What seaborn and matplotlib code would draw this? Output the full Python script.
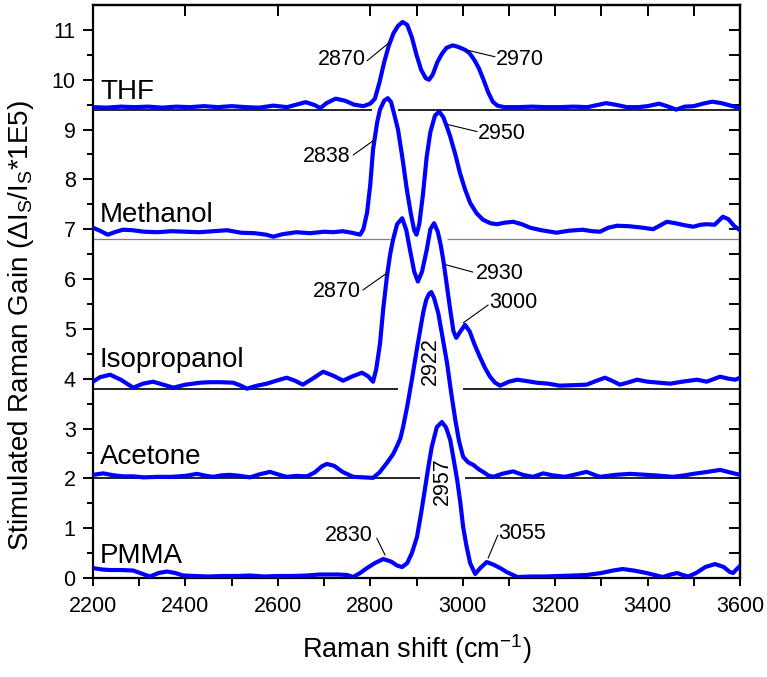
import numpy as np
import pandas as pd
import matplotlib
matplotlib.use("Agg")
import matplotlib.pyplot as plt
import seaborn as sns

sns.set_theme(style="white")
plt.rcParams["font.family"] = ["Liberation Sans", "DejaVu Sans"]
plt.rcParams["mathtext.fontset"] = "custom"
plt.rcParams["mathtext.rm"] = "Liberation Sans"
plt.rcParams["mathtext.it"] = "Liberation Sans:italic"
plt.rcParams["mathtext.bf"] = "Liberation Sans:bold"
for key in ["text.color", "axes.labelcolor", "xtick.color", "ytick.color", "axes.edgecolor"]:
    plt.rcParams[key] = "black"

# ---- spectra (Raman shift in cm^-1, stimulated Raman gain x1E5, with vertical offsets) ----
thf_x = [2200, 2230, 2260, 2290, 2320, 2350, 2380, 2410, 2440, 2470, 2500, 2530, 2560, 2590,
         2620, 2640, 2660, 2680, 2692, 2705, 2725, 2745, 2765, 2785, 2800, 2810, 2820, 2830,
         2840, 2850, 2860, 2870, 2880, 2890, 2900, 2910, 2920, 2927, 2935, 2945, 2955, 2965,
         2978, 2990, 3005, 3015, 3025, 3035, 3045, 3055, 3065, 3075, 3090, 3120, 3150, 3180,
         3210, 3240, 3270, 3290, 3310, 3330, 3355, 3380, 3400, 3425, 3445, 3462, 3480, 3500,
         3520, 3540, 3560, 3580, 3600]
thf_y = [9.45, 9.44, 9.46, 9.45, 9.46, 9.44, 9.46, 9.45, 9.47, 9.45, 9.47, 9.45, 9.44, 9.48,
         9.45, 9.50, 9.55, 9.49, 9.43, 9.53, 9.62, 9.58, 9.50, 9.47, 9.52, 9.62, 9.95, 10.35,
         10.68, 10.93, 11.08, 11.16, 11.10, 10.85, 10.50, 10.20, 10.03, 10.00, 10.10, 10.35, 10.52, 10.64,
         10.69, 10.66, 10.60, 10.53, 10.40, 10.23, 10.00, 9.75, 9.56, 9.48, 9.45, 9.45, 9.46, 9.45,
         9.45, 9.46, 9.45, 9.49, 9.53, 9.50, 9.45, 9.45, 9.47, 9.52, 9.46, 9.40, 9.46, 9.47,
         9.52, 9.56, 9.53, 9.48, 9.43]

methanol_x = [2200, 2215, 2232, 2250, 2265, 2285, 2310, 2340, 2370, 2400, 2430, 2460, 2490, 2520,
              2550, 2575, 2590, 2610, 2640, 2670, 2700, 2720, 2740, 2760, 2778, 2785, 2793, 2800,
              2806, 2815, 2821, 2830, 2838, 2845, 2852, 2860, 2870, 2879, 2888, 2895, 2900, 2906,
              2914, 2922, 2930, 2940, 2949, 2958, 2966, 2973, 2984, 2994, 3005, 3016, 3030, 3044,
              3060, 3074, 3090, 3109, 3128, 3146, 3170, 3203, 3230, 3260, 3280, 3297, 3315, 3334,
              3360, 3390, 3412, 3428, 3442, 3460, 3480, 3499, 3515, 3528, 3545, 3563, 3575, 3588,
              3600]
methanol_y = [7.03, 6.97, 6.89, 6.95, 6.99, 6.98, 6.95, 6.94, 6.96, 6.95, 6.94, 6.96, 6.98, 6.93,
              6.92, 6.89, 6.85, 6.90, 6.94, 6.92, 6.95, 6.94, 6.96, 6.93, 6.89, 7.00, 7.33, 7.90,
              8.60, 9.15, 9.40, 9.58, 9.63, 9.55, 9.30, 9.00, 8.40, 7.80, 7.30, 6.98, 6.89, 7.10,
              7.70, 8.45, 8.95, 9.28, 9.36, 9.25, 9.05, 8.86, 8.50, 8.13, 7.80, 7.53, 7.32, 7.19,
              7.12, 7.10, 7.13, 7.15, 7.10, 7.03, 6.98, 6.93, 6.97, 6.99, 6.96, 6.95, 7.03, 7.07,
              7.06, 7.03, 7.00, 7.08, 7.15, 7.12, 7.08, 7.05, 7.09, 7.10, 7.09, 7.25, 7.20, 7.06,
              6.98]

isopropanol_x = [2200, 2215, 2237, 2260, 2287, 2308, 2330, 2352, 2374, 2400, 2432, 2455, 2475, 2503,
                 2520, 2533, 2555, 2576, 2600, 2619, 2637, 2654, 2675, 2698, 2720, 2741, 2762, 2782,
                 2795, 2806, 2813, 2821, 2828, 2836, 2843, 2849, 2858, 2869, 2878, 2886, 2895, 2903,
                 2912, 2922, 2930, 2938, 2946, 2952, 2958, 2966, 2973, 2980, 2986, 2995, 3005, 3015,
                 3025, 3037, 3048, 3059, 3070, 3081, 3100, 3118, 3140, 3160, 3185, 3210, 3240, 3268,
                 3290, 3308, 3325, 3340, 3360, 3377, 3400, 3425, 3449, 3475, 3507, 3528, 3545, 3557,
                 3575, 3590, 3600]
isopropanol_y = [3.94, 4.03, 4.08, 3.98, 3.82, 3.90, 3.94, 3.88, 3.82, 3.88, 3.92, 3.93, 3.93, 3.92,
                 3.86, 3.80, 3.86, 3.90, 3.97, 4.02, 3.96, 3.88, 4.00, 4.14, 4.06, 3.96, 4.05, 4.12,
                 4.05, 3.94, 4.20, 4.70, 5.40, 6.05, 6.50, 6.78, 7.10, 7.22, 6.98, 6.58, 6.15, 5.95,
                 6.15, 6.58, 7.00, 7.12, 6.95, 6.70, 6.38, 5.85, 5.38, 4.95, 4.82, 4.95, 5.08, 4.95,
                 4.70, 4.44, 4.22, 4.04, 3.92, 3.86, 3.94, 3.98, 3.95, 3.92, 3.90, 3.86, 3.87, 3.88,
                 3.96, 4.02, 3.95, 3.88, 3.93, 3.98, 3.94, 3.92, 3.90, 3.94, 3.98, 3.94, 4.00, 4.04,
                 4.00, 3.98, 4.02]

acetone_x = [2200, 2222, 2245, 2265, 2287, 2310, 2340, 2370, 2400, 2425, 2445, 2460, 2478, 2496,
             2518, 2540, 2560, 2583, 2600, 2619, 2640, 2663, 2680, 2695, 2706, 2722, 2740, 2763,
             2785, 2806, 2820, 2836, 2849, 2858, 2865, 2871, 2880, 2890, 2900, 2908, 2915, 2921,
             2927, 2932, 2938, 2947, 2956, 2966, 2975, 2984, 2992, 3001, 3012, 3023, 3035, 3044,
             3055, 3066, 3085, 3109, 3130, 3152, 3174, 3195, 3221, 3245, 3268, 3285, 3297, 3330,
             3362, 3398, 3430, 3455, 3480, 3499, 3530, 3557, 3578, 3600]
acetone_y = [2.07, 2.10, 2.06, 2.04, 2.04, 2.02, 2.03, 2.03, 2.05, 2.09, 2.05, 2.03, 2.06, 2.07,
             2.05, 2.02, 2.08, 2.13, 2.08, 2.03, 2.05, 2.04, 2.12, 2.24, 2.29, 2.25, 2.13, 2.03,
             2.02, 2.01, 2.12, 2.31, 2.48, 2.65, 2.80, 3.03, 3.45, 3.98, 4.55, 4.98, 5.35, 5.58,
             5.70, 5.74, 5.62, 5.32, 4.85, 4.32, 3.72, 3.17, 2.75, 2.43, 2.32, 2.27, 2.18, 2.13,
             2.06, 2.03, 2.09, 2.14, 2.07, 2.03, 2.10, 2.06, 2.03, 2.08, 2.13, 2.07, 2.03, 2.07,
             2.09, 2.07, 2.05, 2.03, 2.06, 2.09, 2.13, 2.17, 2.12, 2.07]

pmma_x = [2200, 2220, 2237, 2260, 2287, 2305, 2323, 2342, 2360, 2378, 2395, 2420, 2450, 2480,
          2510, 2540, 2570, 2600, 2630, 2663, 2690, 2706, 2730, 2750, 2763, 2778, 2793, 2810,
          2828, 2845, 2858, 2869, 2880, 2890, 2901, 2910, 2919, 2926, 2933, 2944, 2955, 2964,
          2973, 2980, 2988, 2995, 3001, 3008, 3016, 3027, 3038, 3052, 3066, 3081, 3095, 3109,
          3118, 3150, 3180, 3210, 3240, 3268, 3300, 3325, 3346, 3370, 3398, 3415, 3433, 3450,
          3464, 3476, 3488, 3505, 3525, 3546, 3565, 3578, 3585, 3592, 3600]
pmma_y = [0.20, 0.17, 0.16, 0.16, 0.15, 0.09, 0.03, 0.10, 0.13, 0.10, 0.05, 0.04, 0.03, 0.04,
          0.04, 0.05, 0.03, 0.04, 0.04, 0.05, 0.07, 0.07, 0.07, 0.06, 0.02, 0.10, 0.20, 0.30,
          0.38, 0.33, 0.25, 0.22, 0.30, 0.50, 0.82, 1.30, 1.83, 2.25, 2.63, 3.03, 3.13, 3.02,
          2.77, 2.40, 1.97, 1.50, 1.02, 0.65, 0.30, 0.08, 0.20, 0.32, 0.27, 0.20, 0.12, 0.06,
          0.02, 0.03, 0.03, 0.04, 0.05, 0.06, 0.10, 0.15, 0.18, 0.15, 0.10, 0.06, 0.02, 0.07,
          0.10, 0.06, 0.03, 0.10, 0.22, 0.28, 0.22, 0.12, 0.10, 0.17, 0.24]

samples = ["THF", "Methanol", "Isopropanol", "Acetone", "PMMA"]
series_x = [thf_x, methanol_x, isopropanol_x, acetone_x, pmma_x]
series_y = [thf_y, methanol_y, isopropanol_y, acetone_y, pmma_y]

# sample name label positions (x, y)
name_x = [2215, 2215, 2215, 2215, 2215]
name_y = [9.62, 7.15, 4.24, 2.29, 0.30]

# offset baselines: (level, [(start, end), ...]); the PMMA baseline is the x axis itself
baseline_levels = [9.4, 6.8, 3.8, 2.0]
baseline_spans = [[(2200, 2804), (2860, 3600)],
                  [(2200, 2843), (2966, 3600)],
                  [(2200, 2860), (3001, 3600)],
                  [(2200, 2908), (3005, 3600)]]

# peak annotations: text, text position, alignment, leader line (x0, y0, x1, y1) or None
peak_text = ["2870", "2970", "2838", "2950", "2870", "2930", "3000", "2922", "2830", "2957", "3055"]
peak_tx = [2790, 3071, 2757, 3032, 2780, 3028, 3058, 2931, 2806, 2955, 3076]
peak_ty = [10.40, 10.40, 8.45, 8.93, 5.74, 6.12, 5.52, 4.36, 0.86, 1.95, 0.90]
peak_ha = ["right", "left", "right", "left", "right", "left", "left", "center", "right", "center", "left"]
peak_rot = [0, 0, 0, 0, 0, 0, 0, 90, 0, 90, 0]
peak_lines = [(2793, 10.38, 2843, 10.76), (3007, 10.60, 3070, 10.46),
              (2763, 8.49, 2810, 8.80), (2968, 9.10, 3031, 8.96),
              (2784, 5.78, 2836, 6.12), (2962, 6.29, 3022, 6.14),
              (3001, 5.12, 3055, 5.48), None,
              (2814, 0.80, 2832, 0.46), None,
              (3055, 0.40, 3076, 0.86)]

df = pd.concat(
    [pd.DataFrame({"shift": x, "gain": y, "sample": s})
     for s, x, y in zip(samples, series_x, series_y)],
    ignore_index=True)

W, H = 767, 677
fig = plt.figure(figsize=(W / 100, H / 100), dpi=100)
ax = fig.add_axes([93 / W, 99 / H, 647 / W, 573 / H])

# baselines under the spectra
for lvl, spans in zip(baseline_levels, baseline_spans):
    thin = abs(lvl - 6.8) < 1e-6
    for a, b in spans:
        ax.plot([a, b], [lvl, lvl], color="#7f7f7f" if thin else "black",
                lw=0.9 if thin else 1.2, zorder=1, solid_capstyle="butt")

sns.lineplot(data=df, x="shift", y="gain", units="sample", estimator=None, sort=False,
             color="#0000ff", lw=3.0, ax=ax, zorder=3)
for ln in ax.get_lines():
    ln.set_solid_joinstyle("round")

for s, nx, ny in zip(samples, name_x, name_y):
    ax.text(nx, ny, s, fontsize=20, ha="left", va="baseline", color="black", zorder=5)

for t, tx, ty, ha, rot, ln in zip(peak_text, peak_tx, peak_ty, peak_ha, peak_rot, peak_lines):
    ax.text(tx, ty, t, fontsize=15.5, ha=ha, va="center", rotation=rot, color="black", zorder=5)
    if ln is not None:
        ax.plot([ln[0], ln[2]], [ln[1], ln[3]], color="black", lw=0.8, zorder=4)

ax.set_xlim(2200, 3600)
ax.set_ylim(0, 11.5)
ax.set_xticks(np.arange(2200, 3601, 200))
ax.set_xticks(np.arange(2300, 3600, 200), minor=True)
ax.set_yticks(np.arange(0, 12, 1))
ax.set_yticks(np.arange(0.5, 11.5, 1), minor=True)
ax.tick_params(axis="x", which="both", direction="out", length=6, width=1.4,
               labelsize=15.5, pad=7, bottom=True, top=False, colors="black")
ax.tick_params(axis="y", which="major", direction="out", length=7.5, width=1.4,
               labelsize=15.5, pad=5, left=True, right=False, colors="black")
ax.tick_params(axis="y", which="minor", direction="out", length=4.5, width=1.4,
               left=True, right=False, colors="black")

top = ax.secondary_xaxis("top")
top.set_xticks([2400, 2600, 2800, 2900, 3000, 3100, 3200, 3300, 3400, 3500])
top.tick_params(direction="in", length=8, width=1.4, labeltop=False, colors="black")
top.spines["top"].set_linewidth(1.6)
right = ax.secondary_yaxis("right")
right.set_yticks(np.arange(0.5, 11.5, 0.5))
right.tick_params(direction="in", length=8, width=1.4, labelright=False, colors="black")
right.spines["right"].set_linewidth(1.6)

for sp in ax.spines.values():
    sp.set_linewidth(1.6)
    sp.set_color("black")

ax.set_xlabel(r"Raman shift (cm$^{\mathregular{-1}}$)", fontsize=19.5, color="black")
ax.xaxis.set_label_coords(0.5, -0.095)
ax.set_ylabel(r"Stimulated Raman Gain ($\mathregular{\Delta I_S/I_S}$*1E5)", fontsize=20, color="black")
ax.yaxis.set_label_coords(-0.088, 0.44)
ax.grid(False)

fig.savefig("out.png", dpi=100)
